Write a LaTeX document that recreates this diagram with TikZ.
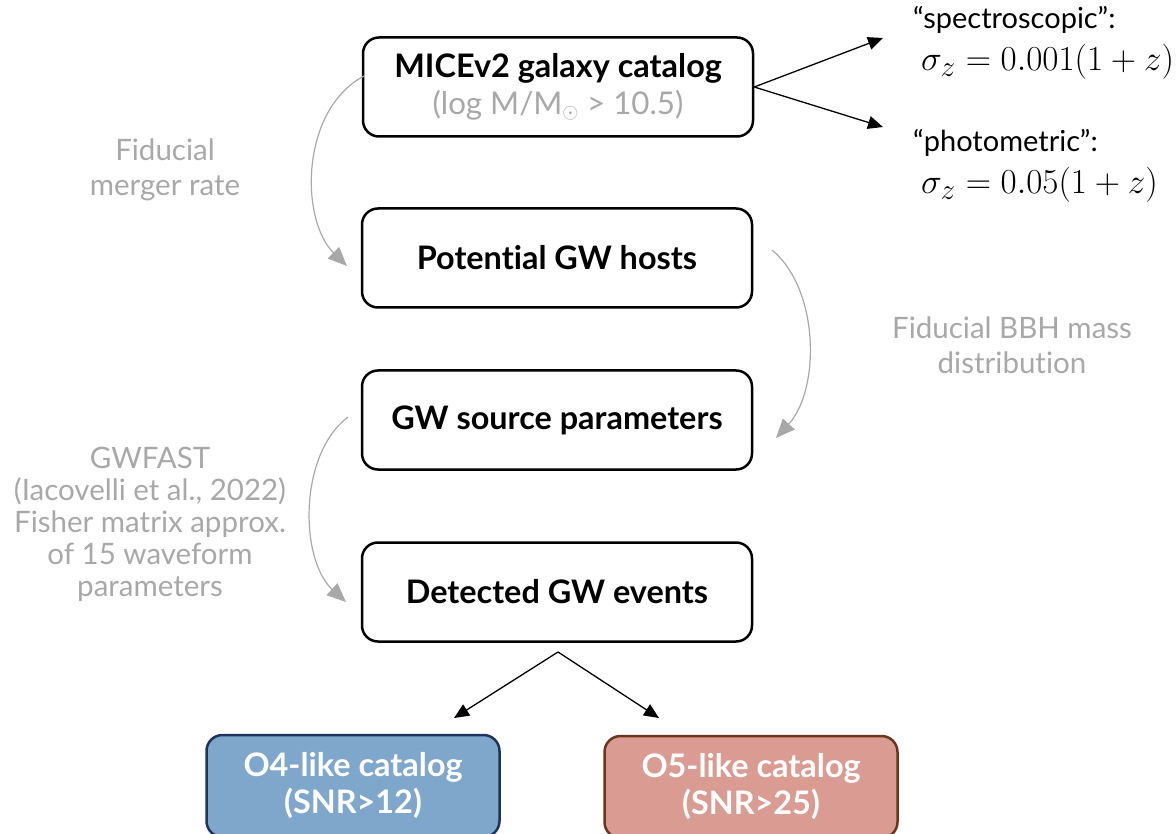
\documentclass[tikz,border=0pt]{standalone}
\usepackage{graphicx}
\usepackage{fontspec}
\setmainfont[Ligatures={TeX,NoCommon}]{Lato}
\usetikzlibrary{arrows.meta}
\definecolor{faded}{RGB}{168,168,168}
\definecolor{ofour}{RGB}{127,166,203}
\definecolor{ofourline}{RGB}{30,52,90}
\definecolor{ofive}{RGB}{218,155,146}
\definecolor{ofiveline}{RGB}{105,55,30}

\begin{document}
\begin{tikzpicture}[x=1pt, y=-1pt,
    stage/.style={draw, line width=2.5pt, rounded corners=16pt, minimum width=390pt, minimum height=99pt, align=center, font=\fontsize{32.4}{37}\selectfont\bfseries},
    cat/.style={stage, minimum width=293pt, minimum height=102pt, text=white},
    note/.style={text=faded, align=center, font=\fontsize{29.5}{35}\selectfont},
    choice/.style={anchor=west, inner sep=0pt, font=\fontsize{29}{34}\selectfont},
    flow/.style={-{Triangle[length=15pt,width=13pt]}, line width=1.3pt},
    hint/.style={-{Triangle[length=19pt,width=16pt]}, faded, line width=1.2pt}]
  \useasboundingbox (0,0) rectangle (1176,834);

  % Pipeline
  \node[stage] (mice) at (558,87) {MICEv2 galaxy catalog\\{\fontsize{31.3}{37}\selectfont\mdseries\color{faded}(log M/M$_\odot$ > 10.5)}};
  \node[stage] (hosts) at (557,258) {Potential GW hosts};
  \node[stage] (source) at (557,420) {GW source parameters};
  \node[stage] (det) at (557,592) {Detected GW events};

  % Catalogs
  \node[cat, fill=ofour, draw=ofourline] (ofourcat) at (353,786) {O4-like catalog\\(SNR>12)};
  \node[cat, fill=ofive, draw=ofiveline] (ofivecat) at (751,787) {O5-like catalog\\(SNR>25)};

  % Redshift errors
  \node[choice] (spec) at (913,20) {“spectroscopic”:};
  \node[choice] (specz) at (921,62) {\scalebox{1.41}{$\sigma_z = 0.001(1+z)$}};
  \node[choice] (phot) at (913,143) {“photometric”:};
  \node[choice] (photz) at (921,185) {\scalebox{1.41}{$\sigma_z = 0.05(1+z)$}};

  % Side notes
  \node[note] (rate) at (165,170) {Fiducial\\merger rate};
  \node[note] (mass) at (1012,345) {Fiducial BBH mass\\distribution};
  \node[note, font=\fontsize{29.5}{32}\selectfont] (fast) at (150,524) {GWFAST\\(Iacovelli et al., 2022)\\Fisher matrix approx.\\of 15 waveform\\parameters};

  % Arrow ends
  \coordinate (spectip) at (883,38);
  \coordinate (phottip) at (883,127);
  \coordinate (fork) at (558,652);
  \coordinate (leftip) at (454,718);
  \coordinate (rightip) at (659,718);
  \coordinate (rateA) at (364,76);
  \coordinate (rateB) at (347,266);
  \coordinate (massA) at (772,250);
  \coordinate (massB) at (776,438);
  \coordinate (fastA) at (348,417);
  \coordinate (fastB) at (346,602);

  % Arrows
  \draw[flow] (mice.east) -- (spectip);
  \draw[flow] (mice.east) -- (phottip);
  \draw[flow] (fork) -- (leftip);
  \draw[flow] (fork) -- (rightip);
  \draw[hint] (rateA) .. controls (300,110) and (300,220) .. (rateB);
  \draw[hint] (massA) .. controls (820,290) and (820,390) .. (massB);
  \draw[hint] (fastA) .. controls (298,455) and (300,560) .. (fastB);
\end{tikzpicture}
\end{document}
